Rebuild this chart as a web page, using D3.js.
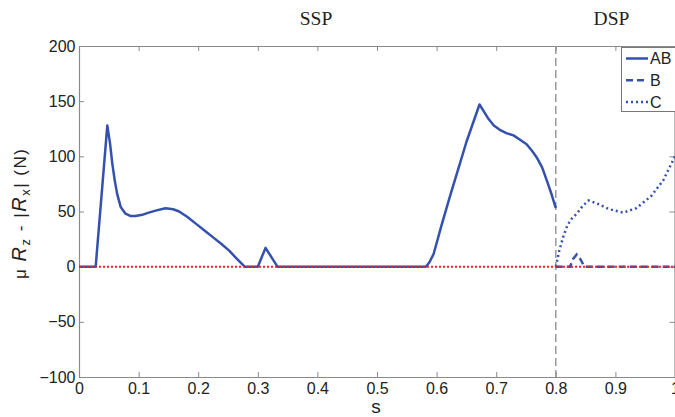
<!DOCTYPE html>
<html>
<head>
<meta charset="utf-8">
<script src="https://cdn.jsdelivr.net/npm/d3@7"></script>
<style>
  html, body { margin: 0; padding: 0; background: #fff; }
  svg { display: block; }
</style>
</head>
<body>
<svg id="chart" width="675" height="417"></svg>
<script>
// ---- data ----
const sAB = [0, 0.028, 0.0475, 0.052, 0.056, 0.060, 0.064, 0.070, 0.078, 0.086, 0.095, 0.106, 0.117, 0.130, 0.145, 0.158, 0.168, 0.182, 0.196, 0.210, 0.224, 0.238, 0.252, 0.265, 0.278, 0.300, 0.313, 0.333, 0.582, 0.588, 0.595, 0.608, 0.622, 0.636, 0.650, 0.661, 0.672, 0.680, 0.687, 0.696, 0.706, 0.717, 0.729, 0.740, 0.751, 0.760, 0.768, 0.777, 0.785, 0.792, 0.800];
const vAB = [0, 0, 128, 112, 93, 78, 66, 54, 48, 46, 46, 47, 49, 51, 53, 52, 50, 45, 39, 33, 27, 21, 14.5, 7, 0, 0, 17, 0, 0, 4, 11.5, 37, 63, 88, 113, 130, 147, 140, 134, 128, 124, 121, 119, 115, 111, 105, 99, 90, 78, 67, 53];
const sB = [0.800, 0.824, 0.829, 0.835, 0.841, 0.848, 1.000];
const vB = [0, 0, 7, 11, 7, 0, 0];
const sC = [0.800, 0.806, 0.813, 0.820, 0.826, 0.835, 0.845, 0.855, 0.870, 0.890, 0.913, 0.935, 0.960, 0.980, 1.000];
const vC = [0, 15, 28, 38, 43, 48, 55, 60, 57, 52, 49, 53, 64, 78, 100];
const sRef = [0, 1];
const vRef = [0, 0];
const xTicks = [0, 0.1, 0.2, 0.3, 0.4, 0.5, 0.6, 0.7, 0.8, 0.9, 1];
const xTickLabels = ["0", "0.1", "0.2", "0.3", "0.4", "0.5", "0.6", "0.7", "0.8", "0.9", "1"];
const yTicks = [-100, -50, 0, 50, 100, 150, 200];
const yTickLabels = ["\u2212100", "\u221250", "0", "50", "100", "150", "200"];
const legendNames = ["AB", "B", "C"];
const phaseNames = ["SSP", "DSP"];
const phaseBoundary = 0.8;

// ---- layout ----
const svg = d3.select("#chart");
const L = 79, R = 675, T = 46, B = 377;
const x = d3.scaleLinear().domain([0, 1]).range([L, R]);
const y = d3.scaleLinear().domain([-100, 200]).range([B, T]);
const axisColor = "#8a8a8a";
const textColor = "#222";
const blue = "#3451ad";
const font = "'Liberation Sans', Arial, Helvetica, sans-serif";

function styleAxis(g) {
  g.select(".domain").attr("stroke", axisColor).attr("stroke-width", 1.2);
  g.selectAll(".tick line").attr("stroke", axisColor).attr("stroke-width", 1);
  g.selectAll(".tick text").attr("fill", textColor).style("font-family", font).style("font-size", "16px");
}

// bottom axis
svg.append("g").attr("transform", `translate(0,${B})`)
  .call(d3.axisBottom(x).tickValues(xTicks).tickFormat((d, i) => xTickLabels[i]).tickSizeInner(-5).tickSizeOuter(0).tickPadding(6))
  .call(styleAxis);
// top axis
svg.append("g").attr("transform", `translate(0,${T})`)
  .call(d3.axisTop(x).tickValues(xTicks).tickFormat("").tickSizeInner(-5).tickSizeOuter(0))
  .call(styleAxis);
// left axis
svg.append("g").attr("transform", `translate(${L},0)`)
  .call(d3.axisLeft(y).tickValues(yTicks).tickFormat((d, i) => yTickLabels[i]).tickSizeInner(-5).tickSizeOuter(0).tickPadding(3.5))
  .call(styleAxis);
// right axis
svg.append("g").attr("transform", `translate(${R - 0.5},0)`)
  .call(d3.axisRight(y).tickValues(yTicks).tickFormat("").tickSizeInner(-5).tickSizeOuter(0))
  .call(styleAxis);

// phase boundary
svg.append("line")
  .attr("x1", x(phaseBoundary)).attr("x2", x(phaseBoundary))
  .attr("y1", T).attr("y2", B)
  .attr("stroke", "#9a9a9a").attr("stroke-width", 1.5).attr("stroke-dasharray", "8,4");

const line = d3.line().x(d => x(d[0])).y(d => y(d[1]));
const zip = (a, b) => a.map((v, i) => [v, b[i]]);

svg.append("path").datum(zip(sAB, vAB)).attr("d", line)
  .attr("fill", "none").attr("stroke", blue).attr("stroke-width", 2.5).attr("stroke-linejoin", "round");
svg.append("path").datum(zip(sB, vB)).attr("d", line)
  .attr("fill", "none").attr("stroke", blue).attr("stroke-width", 2.5).attr("stroke-dasharray", "7,4");
svg.append("path").datum(zip(sC, vC)).attr("d", line)
  .attr("fill", "none").attr("stroke", blue).attr("stroke-width", 2.5).attr("stroke-dasharray", "2,3");
svg.append("path").datum(zip(sRef, vRef)).attr("d", line)
  .attr("fill", "none").attr("stroke", "#e8262b").attr("stroke-width", 2).attr("stroke-dasharray", "2,2");

// phase labels
svg.selectAll("text.phase").data(phaseNames).enter().append("text")
  .attr("class", "phase")
  .attr("x", (d, i) => i === 0 ? 316 : 611.5).attr("y", 25)
  .attr("text-anchor", "middle")
  .style("font-family", "'Liberation Serif', 'Times New Roman', serif")
  .style("font-size", "19.5px").attr("fill", textColor)
  .text(d => d);

// x label
svg.append("text").attr("x", x(0.5) - 1).attr("y", 413)
  .attr("text-anchor", "middle").style("font-family", font).style("font-size", "19px")
  .attr("fill", textColor).text("s");

// y label
const yl = svg.append("text")
  .attr("transform", "translate(26,214) rotate(-90)")
  .attr("text-anchor", "middle").style("font-family", font).style("font-size", "17px")
  .attr("textLength", 130).attr("lengthAdjust", "spacing")
  .attr("fill", textColor);
yl.append("tspan").text("\u03bc ");
yl.append("tspan").style("font-style", "italic").style("font-size", "20px").text("R");
yl.append("tspan").style("font-size", "13px").attr("dy", 4).text("z");
yl.append("tspan").attr("dy", -4).text(" - |");
yl.append("tspan").style("font-style", "italic").style("font-size", "20px").text("R");
yl.append("tspan").style("font-size", "13px").attr("dy", 4).text("x");
yl.append("tspan").attr("dy", -4).text("| (N)");

// legend
const lg = svg.append("g");
lg.append("rect").attr("x", 621.5).attr("y", 47.5).attr("width", 60).attr("height", 64)
  .attr("fill", "#fff").attr("stroke", "#777").attr("stroke-width", 1);
const dashes = [null, "7,4", "2,3"];
legendNames.forEach((n, i) => {
  const yy = 58.5 + i * 21.7;
  lg.append("line").attr("x1", 626).attr("x2", 648).attr("y1", yy).attr("y2", yy)
    .attr("stroke", blue).attr("stroke-width", 2.5).attr("stroke-dasharray", dashes[i]);
  lg.append("text").attr("x", 650).attr("y", yy + 5.7)
    .style("font-family", font).style("font-size", "16px").attr("fill", textColor).text(n);
});
</script>
</body>
</html>
